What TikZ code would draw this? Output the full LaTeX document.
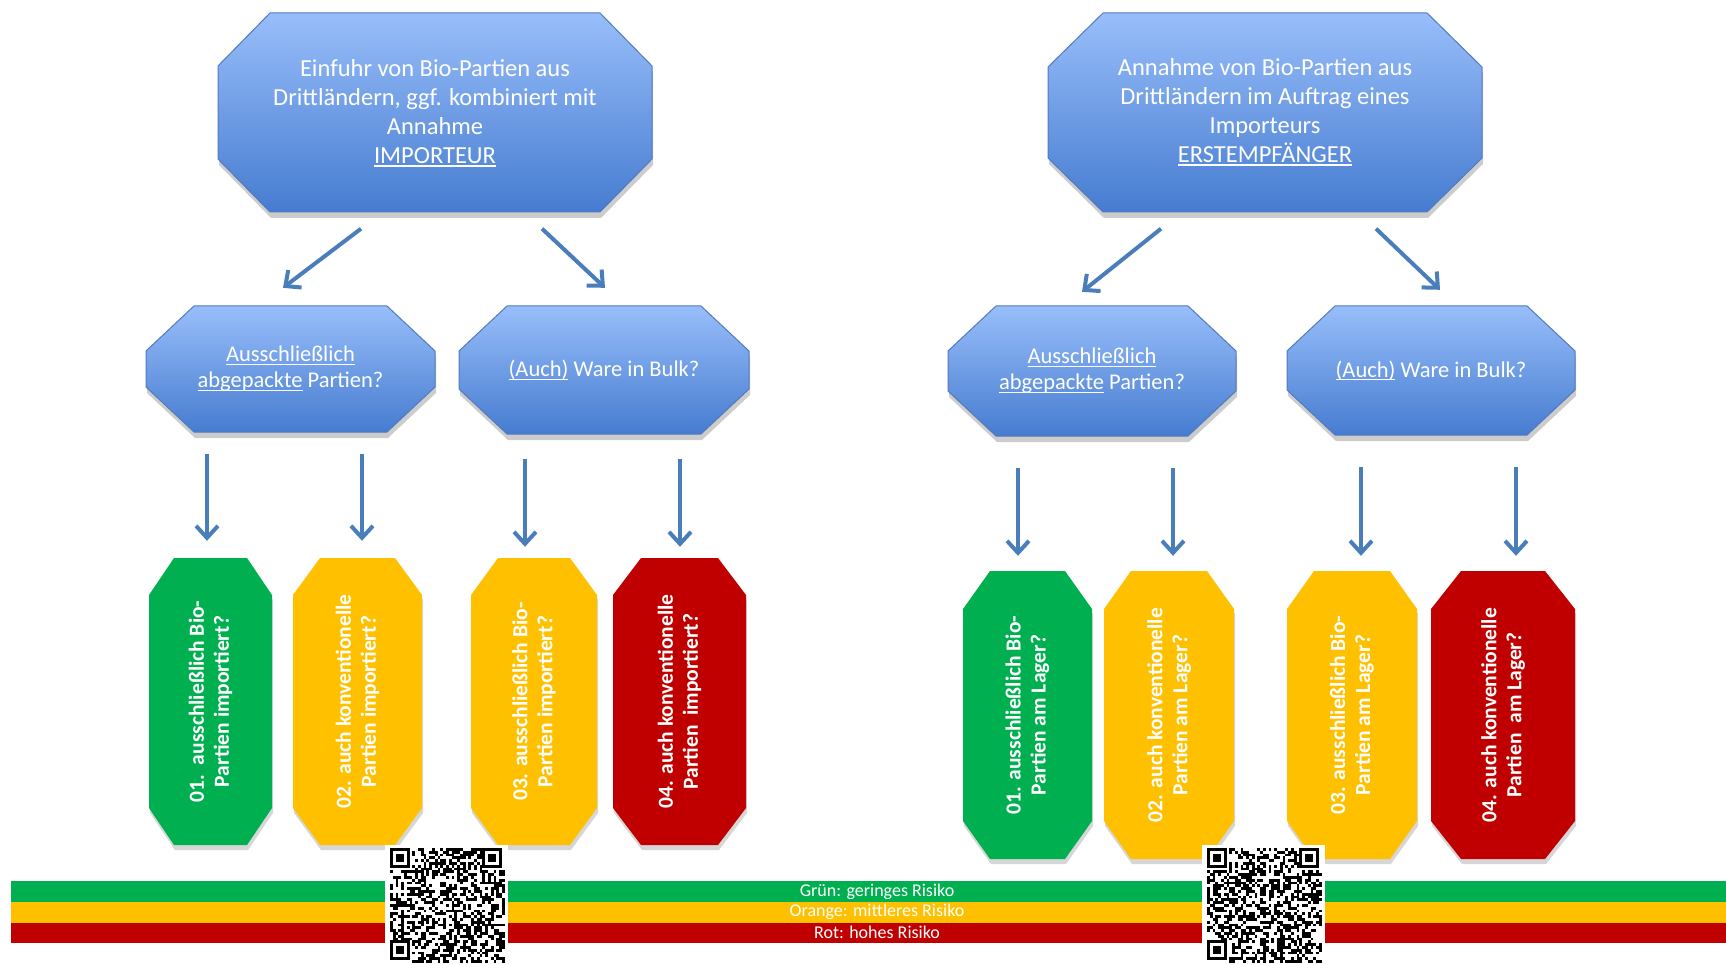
\documentclass[tikz,border=0pt]{standalone}
\usepackage{fontspec}
\setmainfont{Carlito}
\newcommand\uln[1]{\setbox0\hbox{#1}\rlap{\rule[-3.2pt]{\wd0}{1.3pt}}\box0\relax}
\usetikzlibrary{arrows.meta,shadows}
\definecolor{btop}{RGB}{152,190,250}
\definecolor{bbot}{RGB}{70,124,208}
\definecolor{bedge}{RGB}{82,122,188}
\definecolor{arrc}{RGB}{74,126,187}
\definecolor{rgreen}{RGB}{0,176,80}
\definecolor{ryellow}{RGB}{255,192,0}
\definecolor{rred}{RGB}{192,0,0}
\tikzset{
  bluebox/.style={top color=btop, bottom color=bbot, draw=bedge, line width=1pt,
    drop shadow={shadow xshift=1pt, shadow yshift=-6pt, opacity=0.2, fill=black}},
  colbox/.style={fill=#1, drop shadow={shadow xshift=1pt, shadow yshift=-5pt, opacity=0.16, fill=black}},
  holder/.style={inner sep=0pt, align=center, text=white},
  toptxt/.style={holder, font=\fontsize{24.5}{29}\selectfont},
  midtxt/.style={holder, font=\fontsize{22.5}{26}\selectfont},
  bottxt/.style={holder, rotate=90, font=\fontsize{21.5}{25}\selectfont\bfseries},
  legtxt/.style={holder, font=\fontsize{18}{19}\selectfont},
  arr/.style={draw=arrc, line width=4pt, -{Straight Barb[length=12pt,width=22pt]}},
}
% octagon: x1 y1 x2 y2 cutx cuty style
\newcommand\octa[7]{%
  \path[#7] ({#1+#5},#2) -- ({#3-#5},#2) -- (#3,{#2+#6}) -- (#3,{#4-#6}) --
    ({#3-#5},#4) -- ({#1+#5},#4) -- (#1,{#4-#6}) -- (#1,{#2+#6}) -- cycle;}
\newcommand\qrfinder[2]{%
  \fill[black] (#1,#2) rectangle ++(19.6,19.6);
  \fill[white] ({#1+2.8},{#2+2.8}) rectangle ++(14,14);
  \fill[black] ({#1+5.6},{#2+5.6}) rectangle ++(8.4,8.4);}
\newcommand\qrblock[3]{%
  \fill[white] ({#1-5},{#2-3}) rectangle ({#1+118},965);
  \pgfmathsetseed{#3}%
  \foreach \qi in {0,...,40}{\foreach \qj in {0,...,40}{%
    \pgfmathsetmacro\qr{rnd}%
    \pgfmathtruncatemacro\qin{((\qi<8)&&(\qj<8))||((\qi>32)&&(\qj<8))||((\qi<8)&&(\qj>32))}%
    \pgfmathtruncatemacro\qtm{((\qi==6)||(\qj==6))}%
    \ifnum\qin=0
      \ifnum\qtm=1
        \pgfmathtruncatemacro\qev{mod(\qi+\qj,2)==0}%
        \ifnum\qev=1 \fill[black] ({#1+\qi*2.8},{#2+\qj*2.8}) rectangle ++(2.85,2.85);\fi
      \else
        \ifdim\qr pt<0.5pt \fill[black] ({#1+\qi*2.8},{#2+\qj*2.8}) rectangle ++(2.85,2.85);\fi
      \fi
    \fi}}
  \qrfinder{#1}{#2}
  \qrfinder{#1+92.4}{#2}
  \qrfinder{#1}{#2+92.4}}
\begin{document}
\begin{tikzpicture}[x=1pt,y=-1pt]
\useasboundingbox[fill=white] (0,0) rectangle (1726,965);

% ---------- top boxes
\octa{218}{13}{652}{212}{52}{53}{bluebox}
\node[toptxt, minimum width=434pt, minimum height=199pt] (T1) at (435,113)
  {Einfuhr von Bio-Partien aus\\Drittländern, ggf. kombiniert mit\\Annahme\\\uln{IMPORTEUR}};
\octa{1048}{13}{1482}{212}{55}{54}{bluebox}
\node[toptxt, minimum width=434pt, minimum height=199pt] (T2) at (1265,112)
  {Annahme von Bio-Partien aus\\Drittländern im Auftrag eines\\Importeurs\\\uln{ERSTEMPFÄNGER}};

% ---------- middle boxes
\octa{146}{306}{435}{432}{48}{45}{bluebox}
\node[midtxt, minimum width=289pt, minimum height=126pt] (L1) at (290.5,369)
  {\uln{Ausschließlich}\\\uln{abgepackte} Partien?};
\octa{459}{306}{749}{434}{48}{45}{bluebox}
\node[midtxt, minimum width=290pt, minimum height=128pt] (L2) at (604,370)
  {\uln{(Auch)} Ware in Bulk?};
\octa{948}{306}{1236}{436}{48}{45}{bluebox}
\node[midtxt, minimum width=288pt, minimum height=130pt] (R1) at (1092,371)
  {\uln{Ausschließlich}\\\uln{abgepackte} Partien?};
\octa{1287}{306}{1575}{435}{48}{45}{bluebox}
\node[midtxt, minimum width=288pt, minimum height=129pt] (R2) at (1431,370.5)
  {\uln{(Auch)} Ware in Bulk?};

% ---------- bottom boxes (left)
\octa{149}{558}{272}{845}{25}{37}{colbox=rgreen}
\node[bottxt, minimum width=287pt, minimum height=123pt] (B1) at (210.5,701.5)
  {01.\ \ ausschließlich Bio-\\Partien importiert?};
\octa{293}{558}{422}{845}{27}{37}{colbox=ryellow}
\node[bottxt, minimum width=287pt, minimum height=129pt] (B2) at (357.5,701.5)
  {02. auch konventionelle\\Partien importiert?};
\octa{471}{558}{597}{845}{27}{37}{colbox=ryellow}
\node[bottxt, minimum width=287pt, minimum height=126pt] (B3) at (534,701.5)
  {03. ausschließlich Bio-\\Partien importiert?};
\octa{613}{558}{746}{845}{28}{37}{colbox=rred}
\node[bottxt, minimum width=287pt, minimum height=133pt] (B4) at (679.5,701.5)
  {04. auch konventionelle\\Partien\ \ importiert?};

% ---------- bottom boxes (right)
\octa{963}{571}{1092}{859}{27}{38}{colbox=rgreen}
\node[bottxt, minimum width=288pt, minimum height=129pt] (C1) at (1027.5,715)
  {01. ausschließlich Bio-\\Partien am Lager?};
\octa{1104}{571}{1234}{859}{27}{38}{colbox=ryellow}
\node[bottxt, minimum width=288pt, minimum height=130pt] (C2) at (1169,715)
  {02. auch konventionelle\\Partien am Lager?};
\octa{1287}{571}{1417}{859}{27}{38}{colbox=ryellow}
\node[bottxt, minimum width=288pt, minimum height=130pt] (C3) at (1352,715)
  {03. ausschließlich Bio-\\Partien am Lager?};
\octa{1431}{571}{1575}{859}{30}{38}{colbox=rred}
\node[bottxt, minimum width=288pt, minimum height=144pt] (C4) at (1503,715)
  {04. auch konventionelle\\Partien\ \ am Lager?};

% ---------- diagonal arrows
\draw[arr] ([xshift=-74pt,yshift=-16pt]T1.south) -- ([xshift=-7.5pt,yshift=18pt]L1.north);
\draw[arr] ([xshift=107pt,yshift=-16pt]T1.south) -- ([xshift=1pt,yshift=18pt]L2.north);
\draw[arr] ([xshift=-104pt,yshift=-17pt]T2.south) -- ([xshift=-10pt,yshift=14pt]R1.north);
\draw[arr] ([xshift=111pt,yshift=-17pt]T2.south) -- ([xshift=9pt,yshift=16pt]R2.north);

% ---------- vertical arrows (rotated nodes: .east is the top side)
\draw[arr, shorten <=22pt, shorten >=17pt] ([xshift=-3.5pt]B1.east |- L1.south) -- ([xshift=-3.5pt]B1.east);
\draw[arr, shorten <=22pt, shorten >=17pt] ([xshift=4.5pt]B2.east |- L1.south) -- ([xshift=4.5pt]B2.east);
\draw[arr, shorten <=25pt, shorten >=11pt] ([xshift=-9pt]B3.east |- L2.south) -- ([xshift=-9pt]B3.east);
\draw[arr, shorten <=25pt, shorten >=11pt] ([xshift=0.5pt]B4.east |- L2.south) -- ([xshift=0.5pt]B4.east);
\draw[arr, shorten <=32pt, shorten >=15pt] ([xshift=-9.5pt]C1.east |- R1.south) -- ([xshift=-9.5pt]C1.east);
\draw[arr, shorten <=32pt, shorten >=15pt] ([xshift=4pt]C2.east |- R1.south) -- ([xshift=4pt]C2.east);
\draw[arr, shorten <=32pt, shorten >=15pt] ([xshift=9pt]C3.east |- R2.south) -- ([xshift=9pt]C3.east);
\draw[arr, shorten <=32pt, shorten >=15pt] ([xshift=13pt]C4.east |- R2.south) -- ([xshift=13pt]C4.east);

% ---------- legend bars
\fill[rgreen] (11,881) rectangle (1726,902);
\fill[ryellow] (11,902) rectangle (1726,922.5);
\fill[rred] (11,922.5) rectangle (1726,943);
\node[legtxt] (G) at (877,891.5) {Grün: geringes Risiko};
\node[legtxt] (O) at (877,912) {Orange: mittleres Risiko};
\node[legtxt] (R) at (877,932.5) {Rot: hohes Risiko};

% ---------- QR codes
\qrblock{390}{848}{4711}
\qrblock{1207}{848}{8152}
\end{tikzpicture}
\end{document}
